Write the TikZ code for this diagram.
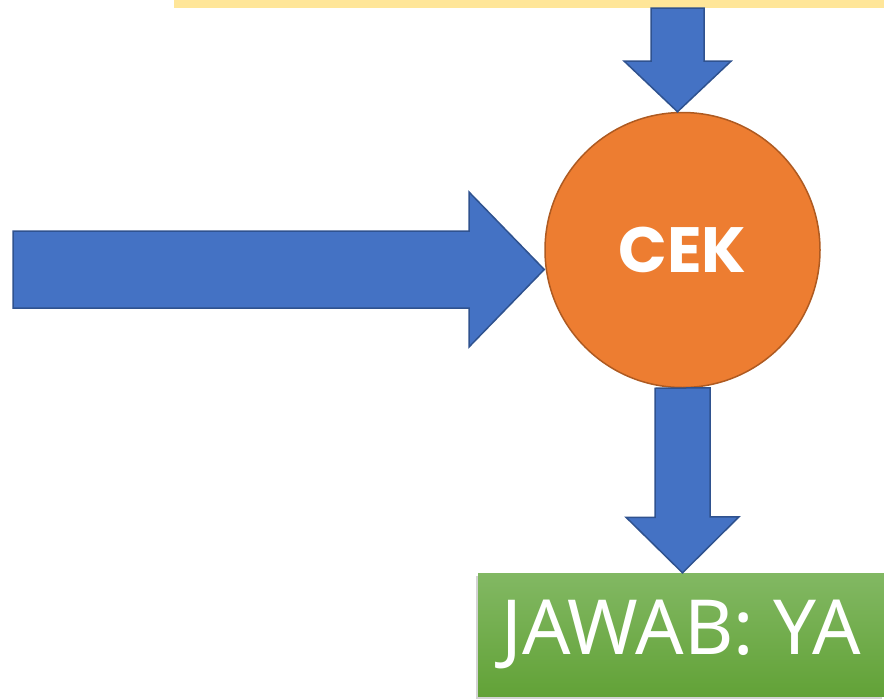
\documentclass[tikz,border=0pt]{standalone}
\usepackage{fontspec}
\usepackage{tikz}
\usetikzlibrary{shadows,calc}
\newfontfamily\cekfont{Poppins}
\newfontfamily\jawabfont{Noto Sans}
\definecolor{panah}{HTML}{4472C4}
\definecolor{panahtepi}{HTML}{2F528F}
\definecolor{oranye}{HTML}{ED7D31}
\definecolor{oranyetepi}{HTML}{AE5A21}
\definecolor{kuning}{HTML}{FFE699}
\definecolor{hijauatas}{HTML}{82B863}
\definecolor{hijaubawah}{HTML}{62A237}

\begin{document}
\begin{tikzpicture}[x=1pt,y=-1pt,
  panahblok/.style={fill=panah,draw=panahtepi,line width=1.5pt,line join=miter},
  bulat/.style={circle,fill=oranye,draw=oranyetepi,line width=1.5pt,minimum size=275pt,inner sep=0pt,text=white},
  kotak/.style={rectangle,top color=hijauatas,bottom color=hijaubawah,draw=none,text=white,minimum width=406pt,minimum height=123pt,inner sep=0pt,
    drop shadow={shadow xshift=-2pt,shadow yshift=-3pt,opacity=0.35}}]
\useasboundingbox (0,0) rectangle (884,699);
\node [fill=kuning,minimum width=710pt,minimum height=16pt,inner sep=0pt] (tanya) at (529,0) {};
\node [bulat] (cek) at (682.5,250) {\cekfont\bfseries\fontsize{64}{64}\selectfont CEK};
\node [kotak] (jawab) at (681,634.5) {\jawabfont\fontsize{76}{76}\selectfont JAWAB: YA};
\coordinate (masuk) at (13,269.5);
% panah dari atas
\draw [panahblok] ($(tanya.south)+(122,0)$) -- ++(53,0) -- ++(0,53) -- ++(27,0) -- ($(cek.north)+(-5,0)$) -- (624,61) -- ++(27,0) -- cycle;
% panah dari kiri
\draw [panahblok] (masuk) ++(0,-38.5) -- ++(456,0) -- ++(0,-39) -- ($(cek.west)+(0,19.5)$) -- (469,347) -- ++(0,-39) -- ++(-456,0) -- cycle;
% panah ke jawaban
\draw [panahblok] (cek.south) ++(-27.5,0) -- ++(0,129) -- ++(-29,0) -- ($(jawab.north)+(1.5,0)$) -- ++(56.5,-56) -- ++(-29,0) -- ++(0,-129) -- cycle;
\end{tikzpicture}
\end{document}
